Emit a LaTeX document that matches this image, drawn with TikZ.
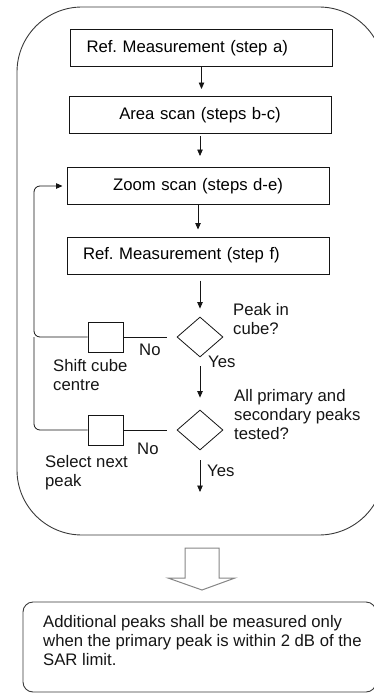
\documentclass[tikz,border=0pt]{standalone}
\usepackage{fontspec}
\setmainfont{Liberation Sans}
\usepackage{tikz}
\usetikzlibrary{arrows.meta,positioning,shapes.geometric}
\definecolor{linec}{HTML}{151515}
\definecolor{framec}{HTML}{3A3A3A}
\definecolor{hollowc}{HTML}{858585}
\tikzset{
  ar/.style={-{Triangle[length=6.5pt,width=5.5pt]},thick,linec},
  ln/.style={thick,linec},
  stepbox/.style={draw=linec,line width=1pt,minimum width=262pt,minimum height=37pt,text width=230pt,inner xsep=16pt,inner ysep=0pt},
  smallbox/.style={draw=linec,line width=1pt,minimum width=35pt,minimum height=30pt,inner sep=0pt},
  decide/.style={draw=linec,line width=0.8pt,diamond,minimum width=46pt,minimum height=40pt,inner sep=0pt},
  lbl/.style={anchor=base west,align=left,inner sep=0pt,text=linec}
}
\frenchspacing
\begin{document}
\begin{tikzpicture}[x=1pt,y=-1pt,font=\fontsize{16.7}{19}\selectfont]
\useasboundingbox (0,0) rectangle (374,693);
\clip (0,0) rectangle (374,693);
% outer frame round the loop
\draw[framec,line width=0.9pt,rounded corners=65pt] (17,7) rectangle (384,535);
\node[stepbox,align=left] (refa) at (201.5,48.5) {Ref. Measurement (step a)};
\node[stepbox,align=center] (area) at (200,115) {Area scan (steps b-c)};
\node[stepbox,align=center] (zoom) at (198,186) {Zoom scan (steps d-e)};
\node[stepbox,align=left] (reff) at (198,255.5) {Ref. Measurement (step f)};
\node[decide] (cube) at (200,337) {};
\node[decide] (tested) at (200,430) {};
\node[smallbox] (shift) at (105.5,337) {};
\node[smallbox] (next) at (105.5,430) {};
\coordinate (rail) at (34,186);
\coordinate (done) at (200,492);
% main column
\draw[ar,shorten >=7pt] (refa.south) -- (refa.south |- area.north);
\draw[ar,shorten <=2pt,shorten >=11pt] (area.south) -- (area.south |- zoom.north);
\draw[ar,shorten >=7pt] (zoom.south) -- (zoom.south |- reff.north);
\draw[ar,shorten <=6pt,shorten >=8pt] (reff.south -| cube) -- (cube.north);
\draw[ar,shorten <=9pt,shorten >=12pt] (cube.south) -- (tested.north);
\draw[ar,shorten <=10pt] (tested.south) -- (done);
% loops back to the zoom scan
\draw[ln,shorten <=10pt] (cube.west) -- (shift.east);
\draw[ar,rounded corners=6pt,shorten >=4pt] (shift.west) -| (rail) -- (zoom.west);
\draw[ln,shorten <=10pt] (tested.west) -- (next.east);
\draw[ln,rounded corners=6pt] (next.west) -| (shift.west -| rail);
% labels (base is the last line)
\node[lbl] (q1) at (233,334) {Peak in\\cube?};
\node[lbl] (yes1) at (208,367) {Yes};
\node[lbl] (no1) at (139,355) {No};
\node[lbl] (shiftl) at (53,390) {Shift cube\\centre};
\node[lbl] (q2) at (234,439) {All primary and\\secondary peaks\\tested?};
\node[lbl] (no2) at (137,454) {No};
\node[lbl] (nextl) at (45,486) {Select next\\peak};
\node[lbl] (yes2) at (207,476) {Yes};
% hollow arrow and note
\draw[hollowc,line width=1pt] (185,548) -- (219,548) -- (219,578) -- (235,578) -- (202,590) -- (168,578) -- (185,578) -- cycle;
\node[draw=framec,line width=0.9pt,rounded corners=10pt,minimum width=353pt,minimum height=90pt] (note) at (199.5,647) {};
\node[lbl] (notel) at (43,665) {Additional peaks shall be measured only\\when the primary peak is within 2 dB of the\\SAR limit.};
\end{tikzpicture}
\end{document}
